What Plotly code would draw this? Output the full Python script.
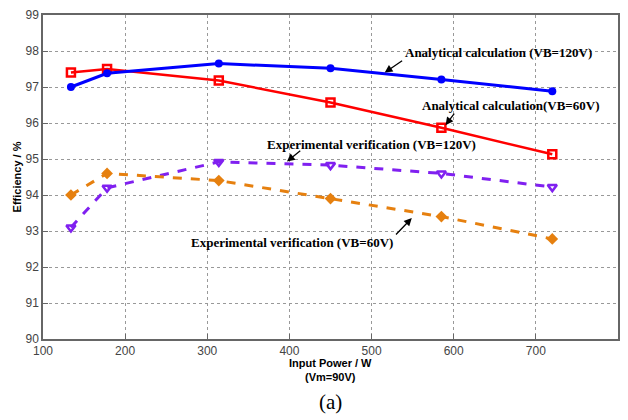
import plotly.graph_objects as go

power = [134, 178, 314, 450, 585, 720]
ana_120 = [97.00, 97.38, 97.65, 97.52, 97.21, 96.88]
ana_60 = [97.40, 97.50, 97.18, 96.57, 95.87, 95.13]
exp_120 = [93.10, 94.20, 94.92, 94.83, 94.60, 94.22]
exp_60 = [94.00, 94.60, 94.40, 93.90, 93.40, 92.78]

x_ticks = [100, 200, 300, 400, 500, 600, 700, 800]
y_ticks = [90, 91, 92, 93, 94, 95, 96, 97, 98, 99]

fig = go.Figure()
fig.add_trace(go.Scatter(x=power, y=ana_60, mode="lines+markers",
                         line=dict(color="#FF0000", width=2.5),
                         marker=dict(symbol="square-open", size=8, color="#FF0000", line=dict(width=2.5))))
fig.add_trace(go.Scatter(x=power, y=ana_120, mode="lines+markers",
                         line=dict(color="#0000FF", width=3),
                         marker=dict(symbol="circle", size=8, color="#0000FF")))
fig.add_trace(go.Scatter(x=power, y=exp_120, mode="lines+markers",
                         line=dict(color="#8020F0", width=3, dash="dash"),
                         marker=dict(symbol="triangle-down-open", size=8, color="#8020F0", line=dict(width=2.5))))
fig.add_trace(go.Scatter(x=power, y=exp_60, mode="lines+markers",
                         line=dict(color="#E6800F", width=3, dash="dash"),
                         marker=dict(symbol="diamond", size=9, color="#E6800F")))

ann_font = dict(family="Liberation Serif", size=13, color="black")
labels = [
    ("<b>Analytical calculation (VB=120V)</b>", 654, 97.95, 516, 97.40, 539, 97.76),
    ("<b>Analytical calculation(VB=60V)</b>", 669, 96.50, 590, 95.94, 602, 96.30),
    ("<b>Experimental verification (VB=120V)</b>", 500, 95.39, 397, 94.93, 415, 95.26),
    ("<b>Experimental verification (VB=60V)</b>", 403, 92.67, 549, 93.36, 528, 92.86),
]
for text, tx, ty, hx, hy, sx, sy in labels:
    fig.add_annotation(x=tx, y=ty, text=text, showarrow=False, font=ann_font, xref="x", yref="y")
    fig.add_annotation(x=hx, y=hy, ax=sx, ay=sy, axref="x", ayref="y", xref="x", yref="y",
                       text="", showarrow=True, arrowhead=2, arrowsize=1.2, arrowwidth=1.3,
                       arrowcolor="black")

fig.add_annotation(x=0.5, y=-0.05, xref="paper", yref="paper", yanchor="top",
                   text="<b>Input Power / W</b><br><b>(Vm=90V)</b>", showarrow=False,
                   font=dict(family="Liberation Sans", size=11, color="black"))
fig.add_annotation(x=0.5, y=-0.195, xref="paper", yref="paper", yanchor="middle",
                   text="(a)", showarrow=False,
                   font=dict(family="Liberation Serif", size=21, color="black"))

axis_common = dict(showgrid=True, gridcolor="#999999", griddash="dot", gridwidth=1,
                   showline=True, linecolor="#666666", linewidth=1.5, mirror=True,
                   ticks="inside", ticklen=5, tickcolor="#666666", zeroline=False,
                   tickfont=dict(family="Liberation Sans", size=12, color="#444444"))
fig.update_xaxes(range=[100, 800], tickvals=x_ticks, **axis_common)
fig.update_yaxes(range=[90, 99], tickvals=y_ticks,
                 title=dict(text="<b>Efficiency / %</b>", standoff=2,
                            font=dict(family="Liberation Sans", size=11, color="black")),
                 **axis_common)

fig.update_layout(width=628, height=420, margin=dict(l=43, r=8, t=12, b=81),
                  plot_bgcolor="white", paper_bgcolor="white", showlegend=False)

fig.write_html("out.html")
